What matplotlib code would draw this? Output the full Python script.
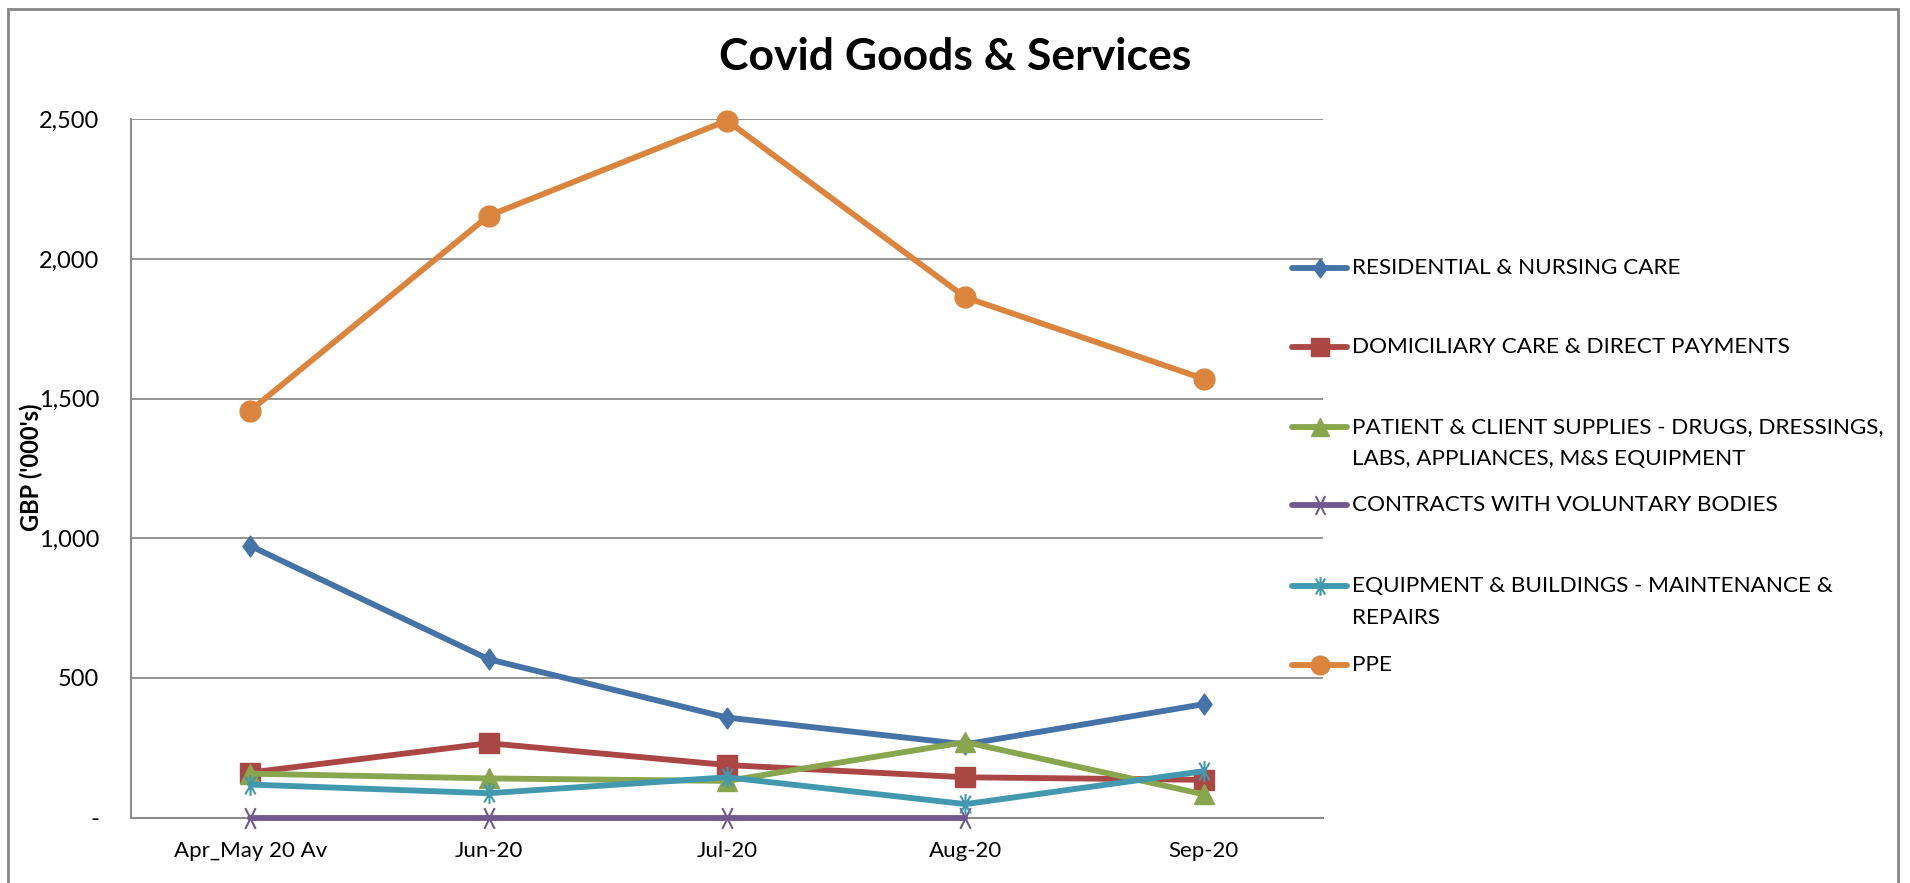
import matplotlib
matplotlib.use("Agg")
import matplotlib.pyplot as plt
from matplotlib.patches import Rectangle
from matplotlib.lines import Line2D
from matplotlib.path import Path
from matplotlib.ticker import FuncFormatter

categories = ["Apr_May 20 Av", "Jun-20", "Jul-20", "Aug-20", "Sep-20"]
residential = [973, 567, 358, 262, 406]
domiciliary = [161, 266, 188, 144, 135]
patient = [157, 140, 131, 270, 83]
contracts = [0, 0, 0, 0]
equipment = [118, 87, 144, 48, 166]
ppe = [1457, 2155, 2496, 1863, 1571]

series_names = [
    "RESIDENTIAL & NURSING CARE",
    "DOMICILIARY CARE & DIRECT PAYMENTS",
    "PATIENT & CLIENT SUPPLIES - DRUGS, DRESSINGS,\nLABS, APPLIANCES, M&S EQUIPMENT",
    "CONTRACTS WITH VOLUNTARY BODIES",
    "EQUIPMENT & BUILDINGS - MAINTENANCE &\nREPAIRS",
    "PPE",
]
yticks = [0, 500, 1000, 1500, 2000, 2500]

plt.rcParams['font.family'] = ['Lato', 'DejaVu Sans']

W, H = 1910, 883
fig = plt.figure(figsize=(W / 100, H / 100), dpi=100)
fig.patches.append(Rectangle((8 / W, -0.1), (1898 - 8) / W, 1.1 - 9 / H,
                             transform=fig.transFigure, fill=False,
                             edgecolor="#868686", linewidth=2.0))

ax = fig.add_axes([131 / W, 1 - 817.5 / H, (1323 - 131) / W, (817.5 - 119.5) / H])
x = list(range(len(categories)))

diamond = Path([(0, 1), (0.72, 0), (0, -1), (-0.72, 0), (0, 1)],
               [Path.MOVETO, Path.LINETO, Path.LINETO, Path.LINETO, Path.CLOSEPOLY])
xmark = Path([(-0.5, -1), (0.5, 1), (-0.5, 1), (0.5, -1)],
             [Path.MOVETO, Path.LINETO, Path.MOVETO, Path.LINETO])
star = Path([(0, -1), (0, 1), (-0.5, -0.85), (0.5, 0.85), (-0.5, 0.85), (0.5, -0.85)],
            [Path.MOVETO, Path.LINETO, Path.MOVETO, Path.LINETO, Path.MOVETO, Path.LINETO])

styles = [
    (residential, "#4572A7", diamond, 15, 1.0),
    (domiciliary, "#AA4643", "s", 14.5, 1.0),
    (patient, "#89A54E", "^", 15, 1.0),
    (contracts, "#71588F", xmark, 15, 1.5),
    (equipment, "#4198AF", star, 15, 1.5),
    (ppe, "#DB843D", "o", 15, 1.0),
]

LW = 4.2
for (vals, col, mk, ms, mew) in styles:
    xs = x[:len(vals)]
    ax.plot(xs, vals, color=col, lw=LW, marker=mk, ms=ms,
            markeredgewidth=mew, markeredgecolor=col, markerfacecolor=col,
            solid_capstyle="round", solid_joinstyle="round", clip_on=False, zorder=3)

ax.set_xlim(-0.5, len(categories) - 0.5)
ax.set_ylim(0, 2500)
ax.set_xticks(x)
ax.set_xticklabels(categories, fontsize=16)
ax.set_yticks(yticks)
ax.yaxis.set_major_formatter(FuncFormatter(lambda v, p: "-" if v == 0 else f"{int(v):,}"))
ax.tick_params(axis="y", labelsize=17, length=0, pad=23)
ax.tick_params(axis="x", length=0, pad=17)
ax.grid(axis="y", color="#8c8c8c", linewidth=1.3)
ax.set_axisbelow(True)
for s in ["top", "right"]:
    ax.spines[s].set_visible(False)
for s in ["left", "bottom"]:
    ax.spines[s].set_color("#8c8c8c")
    ax.spines[s].set_linewidth(1.5)

fig.text(955 / W, 1 - 57 / H, "Covid Goods & Services", ha="center", va="center",
         fontsize=32, fontweight="bold")
fig.text(31 / W, 1 - 467 / H, "GBP ('000's)", rotation=90, ha="center", va="center",
         fontsize=17, fontweight="bold")

# Legend (evenly spaced entries as in the original)
leg_y = [268, 347, 427, 505, 586, 665]
hx0, hx1, tx = 1292, 1347, 1352
for (vals, col, mk, ms, mew), name, ly in zip(styles, series_names, leg_y):
    yf = 1 - ly / H
    fig.add_artist(Line2D([hx0 / W, (hx0 + hx1) / 2 / W, hx1 / W], [yf, yf, yf],
                          transform=fig.transFigure, color=col, lw=LW,
                          marker=mk, ms=ms * 0.9, markevery=[1], markeredgewidth=mew,
                          markeredgecolor=col, markerfacecolor=col,
                          solid_capstyle="round"))
    for i, line in enumerate(name.split("\n")):
        fig.text(tx / W, 1 - (ly + 32 * i) / H, line, ha="left", va="center",
                 fontsize=16.2)

fig.savefig("out.png", dpi=100)
